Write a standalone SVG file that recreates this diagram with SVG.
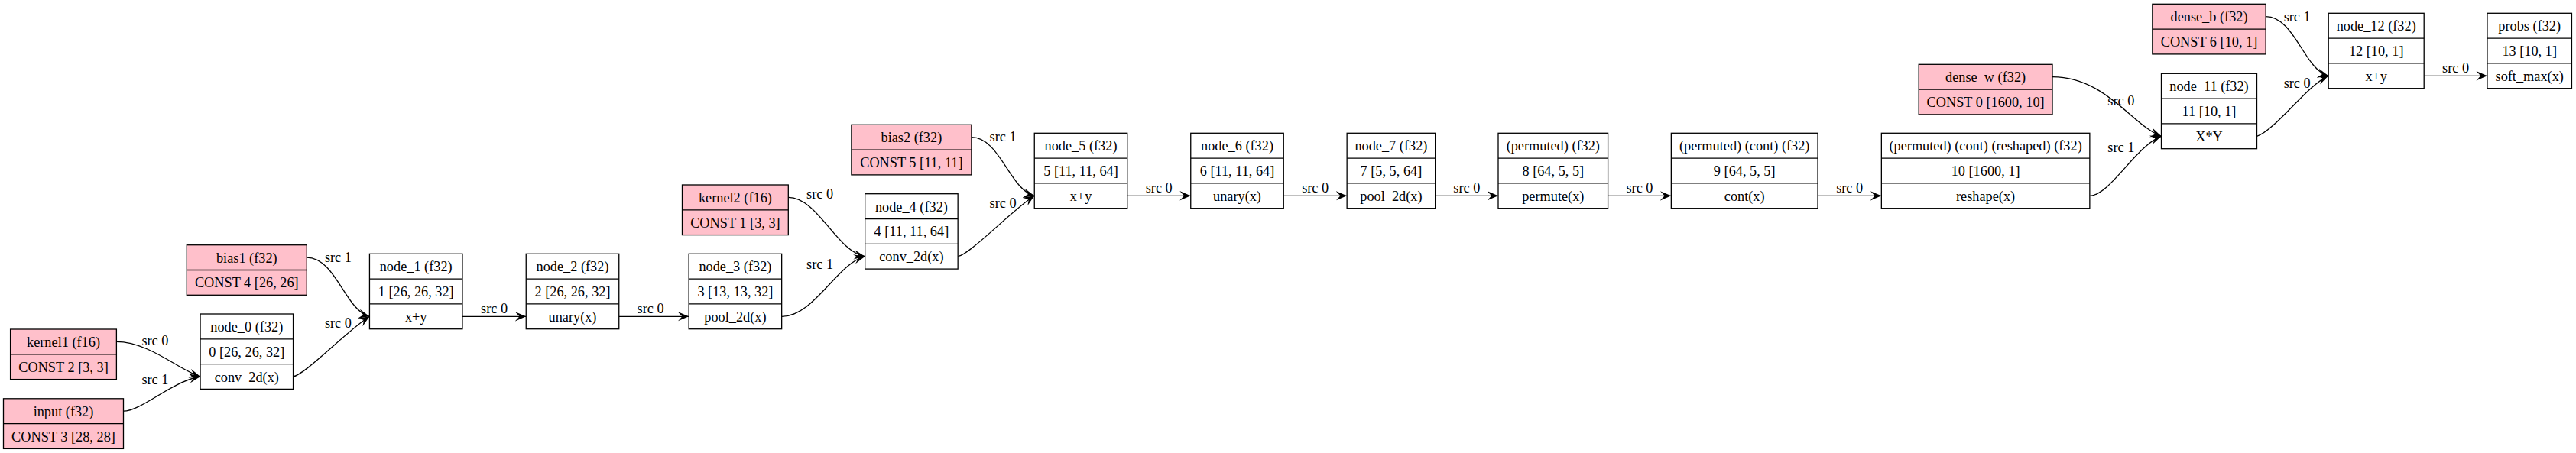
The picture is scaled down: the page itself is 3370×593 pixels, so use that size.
<svg xmlns="http://www.w3.org/2000/svg" width="3370" height="593" viewBox="0 0 3370 593">
<style>
rect{stroke:#000;stroke-width:1.3;fill:#fff}
.leaf rect{fill:#ffc0cb}
line.d{stroke:#000;stroke-width:1.3}
text{font-family:"Liberation Serif","Times New Roman",serif;font-size:18.3px;text-anchor:middle;fill:#000}
#edges path{fill:none;stroke:#000;stroke-width:1.3;marker-end:url(#vee)}
</style>
<defs>
<marker id="vee" viewBox="0 0 15 13" refX="14.5" refY="6.5" markerWidth="15" markerHeight="13" orient="auto" markerUnits="userSpaceOnUse"><path d="M0,0.3 L14.5,6.5 L0,12.7 L5.8,6.5 Z" fill="#000"/></marker>
</defs>
<rect x="0" y="0" width="3370" height="593" style="fill:#fff;stroke:none"/>
<g id="edges">
<path d="M152.4,447.4 C195,447.4 235,485 262.05,493"/>
<path d="M161.5,538.2 C185,538.2 225,499 262.05,493"/>
<path d="M401.3,337.1 C439.3,337.1 451.45,406.3 483.45,414.3"/>
<path d="M383.55,493 C400,490 455,432 483.45,414.3"/>
<path d="M604.95,414.3 L688.25,414.3"/>
<path d="M809.75,414.3 L901.15,414.3"/>
<path d="M1031.3,258.4 C1070,258.4 1095,330 1131.65,335.7"/>
<path d="M1022.65,414.3 C1065,414.3 1095,345 1131.65,335.7"/>
<path d="M1270.9,179.7 C1308,179.7 1321,248.3 1353.25,256.3"/>
<path d="M1253.15,335.7 C1269.6,332.7 1324.8,274.3 1353.25,256.3"/>
<path d="M1474.75,256.3 L1557.75,256.3"/>
<path d="M1679.25,256.3 L1762.15,256.3"/>
<path d="M1877.65,256.3 L1960,256.3"/>
<path d="M2103.6,256.3 L2186.35,256.3"/>
<path d="M2378.05,256.3 L2461.35,256.3"/>
<path d="M2685,100.7 C2755,100.7 2790,165 2827.5,178.3"/>
<path d="M2733.85,256.3 C2760,256.3 2795,190 2827.5,178.3"/>
<path d="M2964.15,21.7 C3002.15,21.7 3014.2,91.3 3046.2,99.3"/>
<path d="M2952.5,178.3 C2975,172 3020,110 3046.2,99.3"/>
<path d="M3171.2,99.3 L3253.95,99.3"/>
<text x="202.9" y="451.7">src 0</text>
<text x="202.9" y="503.3">src 1</text>
<text x="442.4" y="343.3">src 1</text>
<text x="442.4" y="429.3">src 0</text>
<text x="646.6" y="410">src 0</text>
<text x="851.1" y="410">src 0</text>
<text x="1072.6" y="260">src 0</text>
<text x="1072.6" y="352.3">src 1</text>
<text x="1312.1" y="185">src 1</text>
<text x="1312.1" y="272.3">src 0</text>
<text x="1516.25" y="252">src 0</text>
<text x="1720.7" y="252">src 0</text>
<text x="1918.8" y="252">src 0</text>
<text x="2145" y="252">src 0</text>
<text x="2419.7" y="252">src 0</text>
<text x="2774.85" y="137.7">src 0</text>
<text x="2774.85" y="199.3">src 1</text>
<text x="3005.2" y="28.3">src 1</text>
<text x="3005.2" y="115">src 0</text>
<text x="3212.6" y="95">src 0</text>
</g>
<g id="kernel1" class="leaf"><rect x="13.6" y="431" width="138.8" height="65.6"/><line class="d" x1="13.6" y1="463.8" x2="152.4" y2="463.8"/><text x="83" y="453.9">kernel1 (f16)</text><text x="83" y="486.7">CONST 2 [3, 3]</text></g>
<g id="input" class="leaf"><rect x="4.5" y="521.8" width="157" height="65.6"/><line class="d" x1="4.5" y1="554.6" x2="161.5" y2="554.6"/><text x="83" y="544.7">input (f32)</text><text x="83" y="577.5">CONST 3 [28, 28]</text></g>
<g id="bias1" class="leaf"><rect x="244.3" y="320.7" width="157" height="65.6"/><line class="d" x1="244.3" y1="353.5" x2="401.3" y2="353.5"/><text x="322.8" y="343.6">bias1 (f32)</text><text x="322.8" y="376.4">CONST 4 [26, 26]</text></g>
<g id="node_0"><rect x="262.05" y="411" width="121.5" height="98.4"/><line class="d" x1="262.05" y1="443.8" x2="383.55" y2="443.8"/><line class="d" x1="262.05" y1="476.6" x2="383.55" y2="476.6"/><text x="322.8" y="433.9">node_0 (f32)</text><text x="322.8" y="466.7">0 [26, 26, 32]</text><text x="322.8" y="499.5">conv_2d(x)</text></g>
<g id="node_1"><rect x="483.45" y="332.3" width="121.5" height="98.4"/><line class="d" x1="483.45" y1="365.1" x2="604.95" y2="365.1"/><line class="d" x1="483.45" y1="397.9" x2="604.95" y2="397.9"/><text x="544.2" y="355.2">node_1 (f32)</text><text x="544.2" y="388">1 [26, 26, 32]</text><text x="544.2" y="420.8">x+y</text></g>
<g id="node_2"><rect x="688.25" y="332.3" width="121.5" height="98.4"/><line class="d" x1="688.25" y1="365.1" x2="809.75" y2="365.1"/><line class="d" x1="688.25" y1="397.9" x2="809.75" y2="397.9"/><text x="749" y="355.2">node_2 (f32)</text><text x="749" y="388">2 [26, 26, 32]</text><text x="749" y="420.8">unary(x)</text></g>
<g id="node_3"><rect x="901.15" y="332.3" width="121.5" height="98.4"/><line class="d" x1="901.15" y1="365.1" x2="1022.65" y2="365.1"/><line class="d" x1="901.15" y1="397.9" x2="1022.65" y2="397.9"/><text x="961.9" y="355.2">node_3 (f32)</text><text x="961.9" y="388">3 [13, 13, 32]</text><text x="961.9" y="420.8">pool_2d(x)</text></g>
<g id="kernel2" class="leaf"><rect x="892.5" y="242" width="138.8" height="65.6"/><line class="d" x1="892.5" y1="274.8" x2="1031.3" y2="274.8"/><text x="961.9" y="264.9">kernel2 (f16)</text><text x="961.9" y="297.7">CONST 1 [3, 3]</text></g>
<g id="node_4"><rect x="1131.65" y="253.7" width="121.5" height="98.4"/><line class="d" x1="1131.65" y1="286.5" x2="1253.15" y2="286.5"/><line class="d" x1="1131.65" y1="319.3" x2="1253.15" y2="319.3"/><text x="1192.4" y="276.6">node_4 (f32)</text><text x="1192.4" y="309.4">4 [11, 11, 64]</text><text x="1192.4" y="342.2">conv_2d(x)</text></g>
<g id="bias2" class="leaf"><rect x="1113.9" y="163.3" width="157" height="65.6"/><line class="d" x1="1113.9" y1="196.1" x2="1270.9" y2="196.1"/><text x="1192.4" y="186.2">bias2 (f32)</text><text x="1192.4" y="219">CONST 5 [11, 11]</text></g>
<g id="node_5"><rect x="1353.25" y="174.3" width="121.5" height="98.4"/><line class="d" x1="1353.25" y1="207.1" x2="1474.75" y2="207.1"/><line class="d" x1="1353.25" y1="239.9" x2="1474.75" y2="239.9"/><text x="1414" y="197.2">node_5 (f32)</text><text x="1414" y="230">5 [11, 11, 64]</text><text x="1414" y="262.8">x+y</text></g>
<g id="node_6"><rect x="1557.75" y="174.3" width="121.5" height="98.4"/><line class="d" x1="1557.75" y1="207.1" x2="1679.25" y2="207.1"/><line class="d" x1="1557.75" y1="239.9" x2="1679.25" y2="239.9"/><text x="1618.5" y="197.2">node_6 (f32)</text><text x="1618.5" y="230">6 [11, 11, 64]</text><text x="1618.5" y="262.8">unary(x)</text></g>
<g id="node_7"><rect x="1762.15" y="174.3" width="115.5" height="98.4"/><line class="d" x1="1762.15" y1="207.1" x2="1877.65" y2="207.1"/><line class="d" x1="1762.15" y1="239.9" x2="1877.65" y2="239.9"/><text x="1819.9" y="197.2">node_7 (f32)</text><text x="1819.9" y="230">7 [5, 5, 64]</text><text x="1819.9" y="262.8">pool_2d(x)</text></g>
<g id="node_8"><rect x="1960" y="174.3" width="143.6" height="98.4"/><line class="d" x1="1960" y1="207.1" x2="2103.6" y2="207.1"/><line class="d" x1="1960" y1="239.9" x2="2103.6" y2="239.9"/><text x="2031.8" y="197.2">(permuted) (f32)</text><text x="2031.8" y="230">8 [64, 5, 5]</text><text x="2031.8" y="262.8">permute(x)</text></g>
<g id="node_9"><rect x="2186.35" y="174.3" width="191.7" height="98.4"/><line class="d" x1="2186.35" y1="207.1" x2="2378.05" y2="207.1"/><line class="d" x1="2186.35" y1="239.9" x2="2378.05" y2="239.9"/><text x="2282.2" y="197.2">(permuted) (cont) (f32)</text><text x="2282.2" y="230">9 [64, 5, 5]</text><text x="2282.2" y="262.8">cont(x)</text></g>
<g id="node_10"><rect x="2461.35" y="174.3" width="272.5" height="98.4"/><line class="d" x1="2461.35" y1="207.1" x2="2733.85" y2="207.1"/><line class="d" x1="2461.35" y1="239.9" x2="2733.85" y2="239.9"/><text x="2597.6" y="197.2">(permuted) (cont) (reshaped) (f32)</text><text x="2597.6" y="230">10 [1600, 1]</text><text x="2597.6" y="262.8">reshape(x)</text></g>
<g id="dense_w" class="leaf"><rect x="2510.2" y="84.3" width="174.8" height="65.6"/><line class="d" x1="2510.2" y1="117.1" x2="2685" y2="117.1"/><text x="2597.6" y="107.2">dense_w (f32)</text><text x="2597.6" y="140">CONST 0 [1600, 10]</text></g>
<g id="node_11"><rect x="2827.5" y="96.3" width="125" height="98.4"/><line class="d" x1="2827.5" y1="129.1" x2="2952.5" y2="129.1"/><line class="d" x1="2827.5" y1="161.9" x2="2952.5" y2="161.9"/><text x="2890" y="119.2">node_11 (f32)</text><text x="2890" y="152">11 [10, 1]</text><text x="2890" y="184.8">X*Y</text></g>
<g id="dense_b" class="leaf"><rect x="2815.85" y="5.3" width="148.3" height="65.6"/><line class="d" x1="2815.85" y1="38.1" x2="2964.15" y2="38.1"/><text x="2890" y="28.2">dense_b (f32)</text><text x="2890" y="61">CONST 6 [10, 1]</text></g>
<g id="node_12"><rect x="3046.2" y="17.3" width="125" height="98.4"/><line class="d" x1="3046.2" y1="50.1" x2="3171.2" y2="50.1"/><line class="d" x1="3046.2" y1="82.9" x2="3171.2" y2="82.9"/><text x="3108.7" y="40.2">node_12 (f32)</text><text x="3108.7" y="73">12 [10, 1]</text><text x="3108.7" y="105.8">x+y</text></g>
<g id="probs"><rect x="3253.95" y="17.3" width="110.5" height="98.4"/><line class="d" x1="3253.95" y1="50.1" x2="3364.45" y2="50.1"/><line class="d" x1="3253.95" y1="82.9" x2="3364.45" y2="82.9"/><text x="3309.2" y="40.2">probs (f32)</text><text x="3309.2" y="73">13 [10, 1]</text><text x="3309.2" y="105.8">soft_max(x)</text></g>
</svg>
